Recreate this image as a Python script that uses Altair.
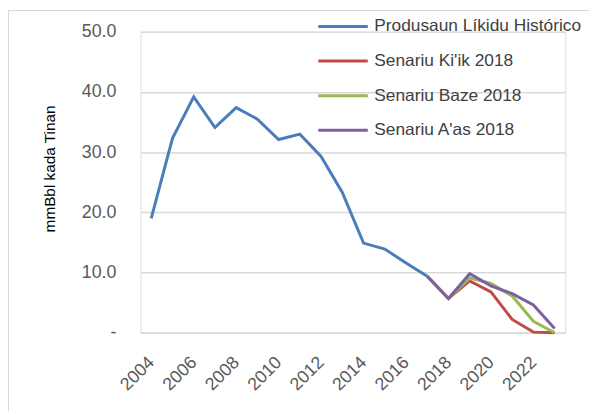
import altair as alt
import pandas as pd

years_hist = [2004, 2005, 2006, 2007, 2008, 2009, 2010, 2011, 2012, 2013, 2014, 2015, 2016, 2017]
hist = [19.0, 32.3, 39.2, 34.1, 37.4, 35.5, 32.1, 33.0, 29.3, 23.3, 14.9, 13.9, 11.6, 9.4]

years_scen = [2017, 2018, 2019, 2020, 2021, 2022, 2023]
low = [9.4, 5.7, 8.6, 6.8, 2.2, 0.1, 0.0]
base = [9.4, 5.7, 9.1, 8.2, 6.1, 1.9, 0.0]
high = [9.4, 5.7, 9.8, 7.8, 6.5, 4.6, 0.7]

series_names = ["Produsaun Líkidu Histórico", "Senariu Ki'ik 2018", "Senariu Baze 2018", "Senariu A'as 2018"]
colors = ["#4a7ebb", "#be4b48", "#98b954", "#7d60a0"]
x_ticks = [2004, 2006, 2008, 2010, 2012, 2014, 2016, 2018, 2020, 2022]

rows = []
for y, v in zip(years_hist, hist):
    rows.append({"year": y, "value": v, "series": series_names[0], "k": 0})
for k, vals in enumerate([low, base, high], start=1):
    for y, v in zip(years_scen, vals):
        rows.append({"year": y, "value": v, "series": series_names[k], "k": k})
df = pd.DataFrame(rows)

FONT = "Liberation Sans"
W, H = 429, 304

lines = alt.Chart(df).mark_line(strokeWidth=3, strokeJoin="miter").encode(
    x=alt.X("year:Q", scale=alt.Scale(domain=[2003.5, 2023.5], nice=False, zero=False),
            axis=alt.Axis(values=x_ticks, format="d", title=None, labelAngle=315,
                          labelAlign="right", labelBaseline="middle", labelPadding=27,
                          ticks=False, grid=False, domainColor="#d9d9d9", domainWidth=1.5,
                          labelFontSize=18, labelColor="#595959", labelFont=FONT,
                          labelOverlap=False)),
    y=alt.Y("value:Q", scale=alt.Scale(domain=[0, 50], nice=False),
            axis=alt.Axis(values=[0, 10, 20, 30, 40, 50], title="mmBbl kada Tinan",
                          labelExpr="datum.value == 0 ? '-\u00a0\u00a0' : format(datum.value, '.1f')",
                          ticks=False, domain=False, gridColor="#d9d9d9", gridWidth=1.5,
                          labelPadding=25, labelFontSize=18, labelColor="#595959", labelFont=FONT,
                          titleFont=FONT, titleFontSize=15.5, titleFontWeight="normal",
                          titleColor="#000000", titleX=-92, titleY=138, titleAngle=270,
                          titleAlign="center", titleBaseline="middle")),
    color=alt.Color("series:N", scale=alt.Scale(domain=series_names, range=colors),
                    legend=alt.Legend(title=None, orient="none", legendX=178, legendY=-32,
                                      symbolType="stroke", symbolStrokeWidth=3, symbolSize=2500,
                                      labelFontSize=17.5, labelFont=FONT, labelColor="#404040",
                                      labelOffset=5, rowPadding=-17, padding=0,
                                      labelLimit=400)),
    detail="k:N",
    order="year:Q",
)

border = alt.Chart(pd.DataFrame({"a": [0]})).mark_rect(
    fill="transparent", stroke="#d9d9d9", strokeWidth=1, clip=False
).encode(x=alt.value(-133.5), y=alt.value(-21.5), x2=alt.value(W + 200), y2=alt.value(H + 200))

chart = alt.layer(border, lines).properties(
    width=W, height=H,
    autosize=alt.AutoSizeParams(type="none"),
    padding={"left": 134, "top": 22, "right": 24, "bottom": 77},
).configure_view(stroke=None).configure(background="white")

chart.save("out.html", embed_options={"renderer": "svg", "actions": False})
